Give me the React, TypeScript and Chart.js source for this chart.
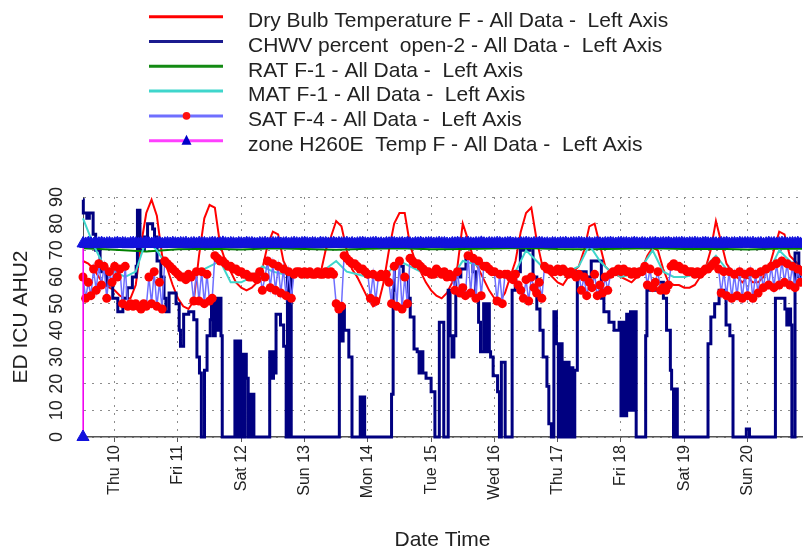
import { useEffect, useRef } from "react";
import { Chart, registerables } from "chart.js";

Chart.register(...registerables);

const FONT = '"Liberation Sans", Arial, sans-serif';

// X axis: days of month (decimal), ticks at midnight
const dayTicks = [10, 11, 12, 13, 14, 15, 16, 17, 18, 19, 20];
const dayLabels = ["Thu 10", "Fri 11", "Sat 12", "Sun 13", "Mon 14", "Tue 15", "Wed 16", "Thu 17", "Fri 18", "Sat 19", "Sun 20"];
const yTicks = [0, 10, 20, 30, 40, 50, 60, 70, 80, 90];
const X_MIN = 9.5;
const X_MAX = 20.86;

const seriesLabels = [
  "Dry Bulb Temperature F - All Data -  Left Axis",
  "CHWV percent  open-2 - All Data -  Left Axis",
  "RAT F-1 - All Data -  Left Axis",
  "MAT F-1 - All Data -  Left Axis",
  "SAT F-4 - All Data -  Left Axis",
  "zone H260E  Temp F - All Data -  Left Axis",
];

// all sampled series start Wed 9 12:00
const SAMPLE_START = 9.5;

// Dry bulb: 2-hour samples
const DRY_STEP = 1 / 12;
const dryBulb = [
  66, 65, 63, 60, 57, 56,
  55, 53, 52, 52, 57, 72, 84, 89, 83, 68, 63, 57,
  52, 49, 48, 51, 68, 82, 87, 86, 72, 66, 62, 58,
  56, 55, 56, 58, 63, 72, 77, 76, 66, 62, 61, 62,
  61, 61, 60, 61, 70, 75, 81, 79, 70, 63, 60, 56,
  52, 49, 50, 58, 70, 80, 84, 84, 72, 66, 62, 58,
  55, 53, 52, 54, 58, 64, 80, 74, 67, 63, 59, 55,
  52, 51, 54, 60, 66, 77, 84, 86, 74, 65, 62, 60,
  58, 57, 60, 62, 64, 70, 79, 80, 72, 64, 62, 61,
  60, 59, 58, 60, 63, 68, 71, 70, 63, 58, 57, 57,
  56, 56, 57, 60, 63, 70, 81, 73, 65, 62, 60, 58,
  60, 58, 58, 60, 63, 70, 77, 76, 68, 66, 64, 62,
];

// SAT: hourly samples
const HOUR_STEP = 1 / 24;
const sat = [
  60, 52, 58, 53, 63, 55, 65, 57, 64, 52, 62, 58,
  64, 60, 63, 50, 64, 49, 50, 49, 50, 49, 48, 50, 49, 60, 50, 62, 49, 58, 48, 66, 65, 64, 63, 62,
  61, 60, 60, 59, 61, 60, 51, 62, 51, 62, 50, 61, 51, 52, 68, 67, 66, 66, 65, 64, 64, 63, 63, 62,
  62, 61, 61, 60, 60, 60, 59, 62, 55, 60, 66, 56, 65, 55, 64, 54, 63, 53, 62, 52, 61, 62, 62, 61,
  62, 61, 62, 61, 61, 62, 61, 61, 62, 61, 62, 61, 50, 48, 49, 68, 67, 66, 65, 65, 64, 63, 63, 62,
  61, 52, 61, 51, 60, 61, 60, 61, 58, 50, 64, 49, 66, 48, 60, 50, 67, 66, 65, 65, 64, 63, 62, 62,
  61, 61, 63, 62, 61, 62, 60, 61, 60, 55, 62, 54, 56, 53, 68, 54, 67, 52, 66, 53, 64, 64, 63, 62,
  62, 51, 61, 50, 61, 61, 60, 59, 61, 57, 55, 52, 59, 51, 60, 56, 54, 58, 52, 64, 63, 63, 62, 62,
  63, 62, 63, 62, 61, 62, 61, 60, 61, 55, 60, 53, 58, 56, 61, 53, 57, 54, 60, 55, 61, 62, 62, 63,
  62, 63, 62, 62, 61, 62, 61, 62, 62, 64, 57, 63, 56, 58, 62, 55, 56, 55, 57, 64, 65, 64, 64, 63,
  63, 62, 62, 62, 61, 62, 61, 62, 63, 63, 64, 65, 66, 63, 54, 62, 53, 62, 52, 61, 53, 62, 52, 61,
  53, 62, 52, 61, 54, 62, 56, 63, 57, 64, 56, 65, 57, 66, 58, 65, 57, 64, 56, 63, 58, 62, 57, 61,
];

// zone temp: first reading 0 at the start, then hourly samples
const ZONE_FIRST_TIME = 9.5;
const ZONE_FIRST_VALUE = 0;
const ZONE_START = 9.502;
const zoneValues = [
  72.6, 72.4, 72.7, 72.5, 72.3, 72.6, 72.5, 72.7, 72.4, 72.5, 72.6, 72.3,
  72.5, 72.7, 72.4, 72.6, 72.5, 72.3, 72.6, 72.7, 72.5, 72.4, 72.6, 72.5, 72.8, 72.5, 72.4, 72.6, 72.5, 72.7, 72.3, 72.5, 72.6, 72.4, 72.7, 72.5,
  72.4, 72.6, 72.5, 72.7, 72.3, 72.5, 72.6, 72.4, 72.7, 72.5, 72.6, 72.3, 72.5, 72.7, 72.6, 72.4, 72.5, 72.8, 72.5, 72.4, 72.6, 72.5, 72.3, 72.6,
  72.5, 72.4, 72.7, 72.5, 72.6, 72.4, 72.3, 72.6, 72.5, 72.7, 72.4, 72.5, 72.6, 72.5, 72.7, 72.4, 72.5, 72.6, 72.3, 72.5, 72.7, 72.5, 72.4, 72.6,
  72.7, 72.5, 72.4, 72.6, 72.5, 72.3, 72.7, 72.5, 72.6, 72.4, 72.5, 72.7, 72.4, 72.6, 72.5, 72.5, 72.7, 72.4, 72.6, 72.3, 72.5, 72.6, 72.7, 72.5,
  72.4, 72.5, 72.6, 72.7, 72.4, 72.5, 72.3, 72.6, 72.5, 72.7, 72.6, 72.4, 72.5, 72.6, 72.4, 72.7, 72.5, 72.3, 72.6, 72.5, 72.7, 72.4, 72.5, 72.6,
  72.6, 72.4, 72.5, 72.7, 72.5, 72.6, 72.4, 72.3, 72.6, 72.5, 72.7, 72.5, 72.4, 72.6, 72.7, 72.5, 72.4, 72.6, 72.5, 72.8, 72.5, 72.4, 72.6, 72.5,
  72.5, 72.7, 72.6, 72.4, 72.5, 72.6, 72.7, 72.4, 72.5, 72.3, 72.6, 72.5, 72.7, 72.5, 72.4, 72.6, 72.5, 72.7, 72.6, 72.4, 72.5, 72.3, 72.6, 72.5,
  72.4, 72.6, 72.5, 72.7, 72.4, 72.5, 72.6, 72.5, 72.7, 72.6, 72.4, 72.5, 72.6, 72.3, 72.5, 72.7, 72.5, 72.4, 72.6, 72.5, 72.7, 72.5, 72.4, 72.6,
  72.7, 72.5, 72.6, 72.4, 72.5, 72.7, 72.5, 72.4, 72.6, 72.5, 72.3, 72.6, 72.5, 72.7, 72.4, 72.5, 72.6, 72.5, 72.7, 72.4, 72.5, 72.6, 72.5, 72.7,
  72.5, 72.4, 72.6, 72.5, 72.7, 72.5, 72.4, 72.6, 72.7, 72.5, 72.4, 72.6, 72.5, 72.3, 72.6, 72.5, 72.7, 72.4, 72.5, 72.6, 72.4, 72.7, 72.5, 72.6,
  72.6, 72.5, 72.7, 72.4, 72.5, 72.6, 72.3, 72.5, 72.7, 72.5, 72.6, 72.4, 72.5, 72.7, 72.6, 72.4, 72.5, 72.6, 72.5, 72.7, 72.4, 72.5, 72.6, 72.5,
];

// MAT: 4-hour samples
const MAT_STEP = 1 / 6;
const mat = [
  82, 72, 64,
  62, 60, 62, 74, 70, 64,
  62, 60, 62, 64, 66, 58,
  58, 60, 64, 62, 61, 62,
  62, 61, 63, 66, 62, 61,
  60, 61, 62, 66, 64, 62,
  60, 61, 60, 66, 65, 63,
  61, 60, 62, 70, 66, 62,
  63, 62, 64, 72, 66, 62,
  60, 61, 64, 70, 62, 60,
  60, 61, 64, 68, 63, 61,
  60, 61, 62, 70, 66, 63,
  62,
];

// RAT: 12-hour samples
const RAT_STEP = 0.5;
const rat = [
  70.8, 70.2, 69.6, 70.4, 70.6, 70.3, 70.8, 70.5, 70.2, 70.6, 70.8, 70.4,
  70.5, 70.7, 70.9, 70.5, 70.4, 70.6, 70.8, 70.5, 70.6, 70.3, 70.7, 70.5,
];

// CHWV: change points (day, percent); each value holds until the next time
const chwvTimes = [
  9.5, 9.505, 9.56, 9.6, 9.66, 9.7, 9.77, 9.87, 9.97, 10.05, 10.13, 10.2, 10.28, 10.34, 10.36, 10.4,
  10.47, 10.52, 10.6, 10.63, 10.67, 10.73, 10.78, 10.81, 10.86, 10.97, 11.02, 11.04, 11.09, 11.17,
  11.25, 11.3, 11.34, 11.37, 11.42, 11.46, 11.51, 11.53, 11.56, 11.59, 11.62, 11.65, 11.68, 11.7,
  11.9, 11.93, 11.96, 11.99, 12.0, 12.03, 12.06, 12.08, 12.11, 12.12, 12.15, 12.17, 12.2,
  12.45, 12.48, 12.51, 12.54, 12.55, 12.62, 12.67, 12.71, 12.73, 12.75, 12.77, 12.79,
  13.55, 13.58, 13.61, 13.63, 13.7, 13.75, 13.88, 13.91, 13.93, 13.95,
  14.375, 14.4, 14.42, 14.56, 14.64, 14.67, 14.73, 14.78, 14.81, 14.84, 14.87, 14.92, 15.0, 15.06,
  15.13, 15.2, 15.27, 15.3, 15.33, 15.36, 15.39, 15.47, 15.55, 15.66, 15.7, 15.75, 15.78,
  15.83, 15.86, 15.89, 15.92, 15.94, 15.98, 16.05, 16.08, 16.11, 16.17,
  16.28, 16.33, 16.41, 16.56, 16.61, 16.67, 16.72, 16.77, 16.83, 16.86, 16.9,
  16.94, 16.98, 17.01, 17.04, 17.07, 17.09, 17.12, 17.15, 17.18, 17.21, 17.24, 17.27,
  17.31, 17.45, 17.53, 17.69, 17.73, 17.81, 17.89,
  17.97, 18.0, 18.03, 18.06, 18.09, 18.12, 18.15, 18.18, 18.21, 18.24,
  18.39, 18.41, 18.55, 18.67, 18.72, 18.78, 18.8, 18.83, 18.86, 18.89,
  19.375, 19.42, 19.48, 19.55, 19.66, 19.72, 19.77, 19.98, 20.03,
  20.44, 20.59, 20.62, 20.65, 20.68, 20.7, 20.75, 20.81, 21.0,
];
const chwvValues = [
  89, 84, 82, 84, 76, 70, 62, 57, 52, 47, 52, 56, 60, 64, 85, 70,
  75, 80, 78, 75, 66, 60, 52, 47, 54, 50, 40, 34, 46, 47,
  44, 30, 24, 0, 25, 38, 44, 52, 38, 52, 40, 52, 38, 0,
  36, 0, 36, 0, 31, 0, 31, 22, 0, 16, 0, 16, 0,
  32, 22, 32, 24, 46, 42, 34, 0, 62, 0, 62, 0,
  49, 36, 49, 40, 30, 0, 15, 0, 15, 0,
  16, 55, 64, 60, 52, 45, 33, 32, 24, 32, 24, 22, 17, 0,
  43, 0, 55, 38, 30, 38, 60, 63, 67, 62, 53, 43, 32,
  50, 32, 50, 32, 30, 23, 17, 0, 28, 0,
  55, 62, 70, 72, 60, 48, 40, 30, 19, 5, 0,
  47, 35, 0, 35, 0, 28, 0, 28, 0, 26, 0, 25,
  62, 60, 66, 52, 47, 43, 40,
  43, 8, 43, 8, 46, 10, 47, 10, 47, 0,
  38, 55, 58, 52, 40, 25, 18, 0, 18, 0,
  35, 45, 50, 55, 42, 38, 0, 3, 0,
  52, 48, 42, 48, 42, 0, 69, 60, 60,
];

const legendStyles = [
  { line: "#ff0000", marker: null },
  { line: "#1b1b8f", marker: null },
  { line: "#138a13", marker: null },
  { line: "#3fd6cc", marker: null },
  { line: "#6f6fff", marker: "circle", markerColor: "#ff1010" },
  { line: "#ff40ff", marker: "triangle", markerColor: "#0000c8" },
];

const overlayPlugin = {
  id: "overlay",
  afterDraw(chart: any) {
    const ctx = chart.ctx as CanvasRenderingContext2D;
    ctx.save();
    // legend
    seriesLabels.forEach((label, i) => {
      const st = legendStyles[i];
      const y = 16.7 + i * 24.8;
      ctx.strokeStyle = st.line;
      ctx.lineWidth = 3;
      ctx.beginPath();
      ctx.moveTo(149, y);
      ctx.lineTo(223, y);
      ctx.stroke();
      if (st.marker === "circle") {
        ctx.fillStyle = st.markerColor as string;
        ctx.beginPath();
        ctx.arc(186.5, y, 3.8, 0, Math.PI * 2);
        ctx.fill();
      } else if (st.marker === "triangle") {
        ctx.fillStyle = st.markerColor as string;
        ctx.beginPath();
        ctx.moveTo(186.5, y - 6);
        ctx.lineTo(191.5, y + 4);
        ctx.lineTo(181.5, y + 4);
        ctx.closePath();
        ctx.fill();
      }
      ctx.fillStyle = "#222";
      ctx.font = `21px ${FONT}`;
      ctx.textBaseline = "alphabetic";
      ctx.textAlign = "left";
      ctx.fillText(label, 248, y + 10.3);
    });
    // rotated y tick labels
    const ys = chart.scales.y;
    ctx.font = `18px ${FONT}`;
    ctx.fillStyle = "#222";
    ctx.textAlign = "center";
    ctx.textBaseline = "middle";
    yTicks.forEach((v) => {
      const py = ys.getPixelForValue(v);
      ctx.save();
      ctx.translate(57, py);
      ctx.rotate(-Math.PI / 2);
      ctx.fillText(String(v), 0, 0);
      ctx.restore();
    });
    ctx.restore();
  },
};

export default function App() {
  const ref = useRef<HTMLCanvasElement | null>(null);

  useEffect(() => {
    if (!ref.current) return;
    const sampled = (arr: number[], start: number, step: number) =>
      arr.map((v, i) => ({ x: start + i * step, y: v }));

    const zoneData = [{ x: ZONE_FIRST_TIME, y: ZONE_FIRST_VALUE }].concat(
      sampled(zoneValues, ZONE_START, HOUR_STEP)
    );
    const chwvData = chwvTimes.map((t, i) => ({ x: t, y: chwvValues[i] }));
    const clip = { left: 12, top: 4, right: 0, bottom: 12 };

    const chart = new Chart(ref.current, {
      type: "line",
      data: {
        datasets: [
          {
            label: seriesLabels[0],
            data: sampled(dryBulb, SAMPLE_START, DRY_STEP),
            borderColor: "#ff0000",
            borderWidth: 2,
            pointRadius: 0,
            order: 5,
            clip,
          },
          {
            label: seriesLabels[1],
            data: chwvData,
            borderColor: "#000080",
            borderWidth: 3,
            pointRadius: 0,
            stepped: "before",
            order: 4,
            clip,
          },
          {
            label: seriesLabels[2],
            data: sampled(rat, SAMPLE_START, RAT_STEP),
            borderColor: "#008000",
            borderWidth: 2,
            pointRadius: 0,
            order: 3,
            clip,
          },
          {
            label: seriesLabels[3],
            data: sampled(mat, SAMPLE_START, MAT_STEP),
            borderColor: "#3fd6cc",
            borderWidth: 2,
            pointRadius: 0,
            order: 2,
            clip,
          },
          {
            label: seriesLabels[4],
            data: sampled(sat, SAMPLE_START, HOUR_STEP),
            borderColor: "#6f6fff",
            borderWidth: 1.5,
            pointRadius: 4.5,
            pointStyle: "circle",
            pointBackgroundColor: "#ff0000",
            pointBorderColor: "#ff0000",
            pointBorderWidth: 0,
            order: 1,
            clip,
          },
          {
            label: seriesLabels[5],
            data: zoneData,
            borderColor: "#ff00ff",
            borderWidth: 1.5,
            pointRadius: 7,
            pointStyle: "triangle",
            pointBackgroundColor: "#1212dc",
            pointBorderColor: "#1212dc",
            pointBorderWidth: 1,
            order: 0,
            clip,
          },
        ],
      },
      options: {
        responsive: false,
        animation: false,
        events: [],
        layout: { padding: { top: 197, left: 0, right: 0, bottom: 0 } },
        elements: { line: { tension: 0 } },
        plugins: {
          legend: { display: false },
          tooltip: { enabled: false },
        },
        scales: {
          x: {
            type: "linear",
            min: X_MIN,
            max: X_MAX,
            afterBuildTicks: (s: any) => {
              s.ticks = dayTicks.map((v) => ({ value: v }));
            },
            afterFit: (s: any) => {
              s.height = 114;
            },
            ticks: {
              autoSkip: false,
              minRotation: 90,
              maxRotation: 90,
              padding: 3,
              color: "#222",
              font: { size: 16, family: FONT },
              callback: (v: any) => {
                const i = dayTicks.indexOf(Number(v));
                return i >= 0 ? dayLabels[i] : "";
              },
            },
            grid: {
              color: "#8c8c8c",
              lineWidth: 1,
              tickLength: 5,
              tickColor: "#555",
            },
            border: { display: true, color: "#555", width: 1.5, dash: [2, 6] },
            title: {
              display: true,
              text: "Date Time",
              color: "#222",
              font: { size: 21, family: FONT, lineHeight: 1 },
              padding: 0,
            },
          },
          y: {
            type: "linear",
            min: 0,
            max: 90,
            afterBuildTicks: (s: any) => {
              s.ticks = yTicks.map((v) => ({ value: v }));
            },
            afterFit: (s: any) => {
              s.width = 83;
            },
            ticks: { display: false },
            grid: { color: "#8c8c8c", lineWidth: 1, tickLength: 0 },
            border: { display: true, color: "#555", width: 1, dash: [2, 6] },
            title: {
              display: true,
              text: "ED ICU AHU2",
              color: "#222",
              font: { size: 21, family: FONT, lineHeight: 1 },
              padding: { top: 11, bottom: 0 },
            },
          },
        },
      },
      plugins: [overlayPlugin],
    } as any);

    return () => chart.destroy();
  }, []);

  return (
    <div style={{ position: "absolute", left: 0, top: 0, width: 810, height: 551, background: "#fff" }}>
      <canvas ref={ref} width={810} height={551} />
    </div>
  );
}
